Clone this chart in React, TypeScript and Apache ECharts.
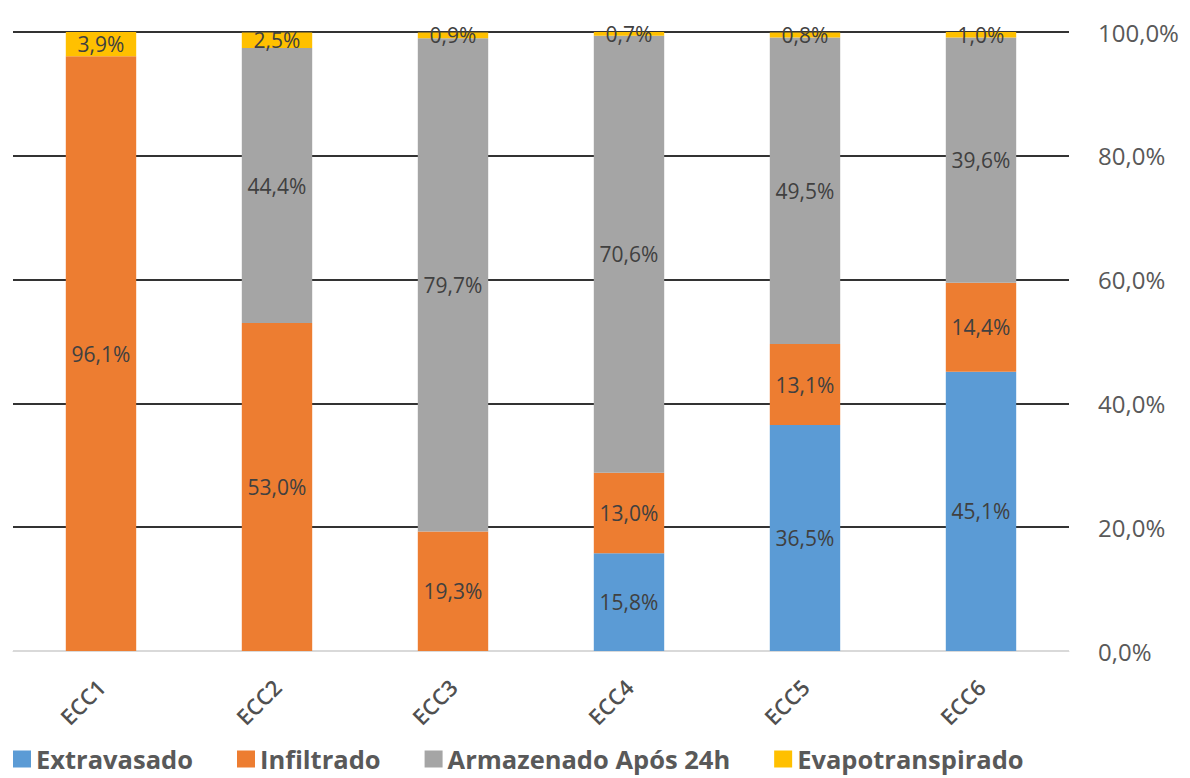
import React, { useEffect, useRef } from "react";
import * as echarts from "echarts";

const categories = ["ECC1", "ECC2", "ECC3", "ECC4", "ECC5", "ECC6"];
const extravasado = [0, 0, 0, 15.8, 36.5, 45.1];
const infiltrado = [96.1, 53.0, 19.3, 13.0, 13.1, 14.4];
const armazenado = [0, 44.4, 79.7, 70.6, 49.5, 39.6];
const evapotranspirado = [3.9, 2.5, 0.9, 0.7, 0.8, 1.0];
const yTicks = [0, 20, 40, 60, 80, 100];

const fmt = (v: number) => v.toFixed(1).replace(".", ",") + "%";
const FONT = "'Open Sans', 'Noto Sans', sans-serif";

export default function App() {
  const ref = useRef<HTMLDivElement>(null);
  useEffect(() => {
    if (!ref.current) return;
    const chart = echarts.init(ref.current, null, { renderer: "svg" });
    const mk = (name: string, data: number[], color: string) => ({
      name,
      type: "bar",
      stack: "total",
      barWidth: "40%",
      data: data.map((v) => (v === 0 ? null : v)),
      itemStyle: { color },
      label: {
        show: true,
        position: "inside",
        formatter: (p: any) => fmt(p.value),
        color: "#404040",
        fontSize: 21,
        fontFamily: FONT,
      },
    });
    chart.setOption({
      animation: false,
      textStyle: { fontFamily: FONT },
      grid: { left: 13, right: 121, top: 32, bottom: 127, containLabel: false },
      legend: {
        left: 13,
        top: 745,
        padding: 0,
        itemWidth: 18,
        itemHeight: 17,
        itemGap: 44,
        icon: "rect",
        textStyle: { fontSize: 25.5, lineHeight: 28, fontWeight: "bold", color: "#595959", fontFamily: FONT },
        data: ["Extravasado", "Infiltrado", "Armazenado Após 24h", "Evapotranspirado"],
      },
      xAxis: {
        type: "category",
        data: categories,
        axisLine: { show: true, lineStyle: { color: "#d9d9d9", width: 1 } },
        axisTick: { show: false },
        axisLabel: { rotate: 45, fontSize: 22, fontWeight: 600, color: "#505050", margin: 32, fontFamily: FONT },
      },
      yAxis: {
        type: "value",
        position: "right",
        min: yTicks[0],
        max: yTicks[yTicks.length - 1],
        interval: 20,
        axisLine: { show: false },
        axisTick: { show: false },
        axisLabel: { formatter: (v: number) => fmt(v), fontSize: 24, color: "#595959", margin: 29, fontFamily: FONT },
        splitLine: { lineStyle: { color: ["#d9d9d9", "#333333", "#333333", "#333333", "#333333", "#333333"], width: 2 } },
      },
      series: [
        mk("Extravasado", extravasado, "#5b9bd5"),
        mk("Infiltrado", infiltrado, "#ed7d31"),
        mk("Armazenado Após 24h", armazenado, "#a5a5a5"),
        mk("Evapotranspirado", evapotranspirado, "#ffc000"),
      ],
    });
    return () => chart.dispose();
  }, []);
  return <div ref={ref} style={{ position: "absolute", left: 0, top: 0, width: 1190, height: 778 }} />;
}
